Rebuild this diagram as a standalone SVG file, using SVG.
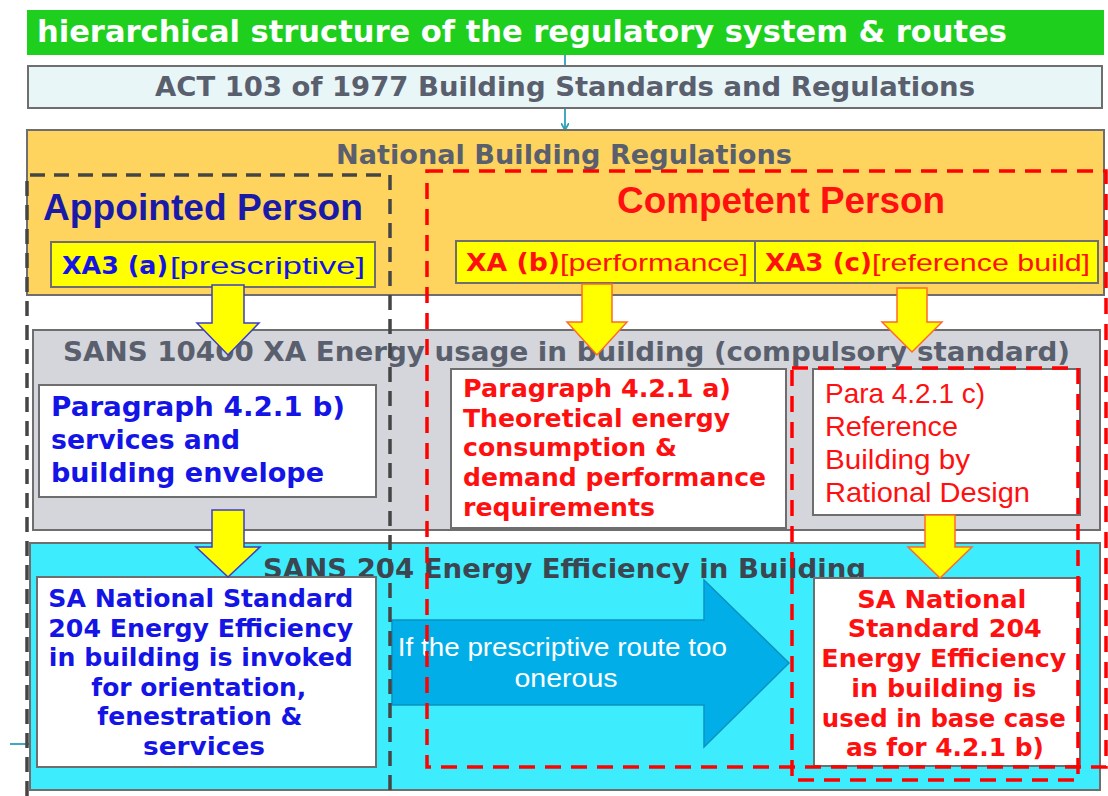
<svg xmlns="http://www.w3.org/2000/svg" width="1108" height="796" viewBox="0 0 1108 796">
<style>
.v{font-family:"DejaVu Sans",Verdana,sans-serif;font-weight:bold}
.a{font-family:"Liberation Sans",Arial,sans-serif}
.box{stroke:#6e6e6e;stroke-width:2}
.hd{fill:#5a5f6e;font-size:27px}
.blu{fill:#1414e6}
.red{fill:#ff1010}
.ya{fill:#ffff00;stroke-width:1.5}
.yb{stroke:#3c3ccc}
.yr{stroke:#ff6a2a}
.dk{fill:none;stroke:#454545;stroke-width:3.5;stroke-dasharray:15 9}
.dr{fill:none;stroke:#ff0000;stroke-width:3.5;stroke-dasharray:16 10}
.cn{stroke:#2aa0b8;stroke-width:1.8;fill:none}
</style>
<defs>
<marker id="ah" markerWidth="8" markerHeight="8" refX="6" refY="4" orient="auto" markerUnits="userSpaceOnUse">
<path d="M0,0 L7,4 L0,8" fill="none" stroke="#2aa0b8" stroke-width="1.8"/>
</marker>
</defs>
<rect width="1108" height="796" fill="#ffffff"/>

<g id="connectors">
<line class="cn" x1="565" y1="55" x2="565" y2="66"/>
<line class="cn" x1="565" y1="108" x2="565" y2="129" marker-end="url(#ah)"/>
<line class="cn" x1="10" y1="744" x2="30" y2="744"/>
</g>

<g id="title">
<rect x="27" y="10" width="1077" height="45" fill="#1ecf1e"/>
<text class="v" x="37" y="42" font-size="31" fill="#ffffff" textLength="970" lengthAdjust="spacingAndGlyphs">hierarchical  structure  of the regulatory  system &amp; routes</text>
</g>

<g id="act">
<rect class="box" x="28" y="66" width="1074" height="42" fill="#e8f6f8"/>
<text class="v hd" x="155" y="96" textLength="820" lengthAdjust="spacingAndGlyphs">ACT 103 of 1977 Building  Standards and  Regulations</text>
</g>

<g id="nbr">
<rect class="box" x="27" y="130" width="1077" height="165" fill="#fed45f"/>
<text class="v hd" x="336" y="164" textLength="456" lengthAdjust="spacingAndGlyphs">National  Building  Regulations</text>
</g>

<g id="appointed-label">
<text class="a" x="43" y="220" font-size="37" font-weight="bold" fill="#1a1aa8" textLength="320" lengthAdjust="spacingAndGlyphs">Appointed Person</text>
</g>
<g id="competent-label">
<text class="a" x="617" y="213" font-size="37" font-weight="bold" fill="#ff1010" textLength="328" lengthAdjust="spacingAndGlyphs">Competent Person</text>
</g>

<g id="xa3a">
<rect class="box" x="51" y="242" width="324" height="45" fill="#ffff00"/>
<text x="62" y="274" font-size="24" class="blu"><tspan class="v" textLength="106" lengthAdjust="spacingAndGlyphs">XA3 (a)</tspan><tspan class="a" x="170" textLength="195" lengthAdjust="spacingAndGlyphs">[prescriptive]</tspan></text>
</g>

<g id="xab">
<rect class="box" x="456" y="241" width="299" height="42" fill="#ffff00"/>
<text x="466" y="271" font-size="24" class="red"><tspan class="v" textLength="94" lengthAdjust="spacingAndGlyphs">XA (b)</tspan><tspan class="a" x="560" textLength="188" lengthAdjust="spacingAndGlyphs">[performance]</tspan></text>
</g>

<g id="xa3c">
<rect class="box" x="755" y="241" width="343" height="42" fill="#ffff00"/>
<text x="765" y="271" font-size="24" class="red"><tspan class="v" textLength="107" lengthAdjust="spacingAndGlyphs">XA3 (c)</tspan><tspan class="a" x="872" textLength="218" lengthAdjust="spacingAndGlyphs">[reference build]</tspan></text>
</g>

<g id="sans10400">
<rect class="box" x="33" y="330" width="1067" height="200" fill="#d4d6db"/>
<text class="v hd" x="63" y="361" textLength="1007" lengthAdjust="spacingAndGlyphs">SANS 10400 XA Energy  usage in building  (compulsory  standard)</text>
</g>

<g id="para-b">
<rect class="box" x="39" y="385" width="337" height="112" fill="#ffffff"/>
<text class="v blu" font-size="26">
<tspan x="51" y="416" textLength="294" lengthAdjust="spacingAndGlyphs">Paragraph  4.2.1 b)</tspan>
<tspan x="51" y="449" textLength="189" lengthAdjust="spacingAndGlyphs">services and</tspan>
<tspan x="51" y="482" textLength="273" lengthAdjust="spacingAndGlyphs">building  envelope</tspan>
</text>
</g>

<g id="para-a">
<rect class="box" x="451" y="369" width="335" height="159" fill="#ffffff"/>
<text class="v red" font-size="24">
<tspan x="463" y="397" textLength="268" lengthAdjust="spacingAndGlyphs">Paragraph 4.2.1 a)</tspan>
<tspan x="463" y="427" textLength="267" lengthAdjust="spacingAndGlyphs">Theoretical energy</tspan>
<tspan x="463" y="456" textLength="214" lengthAdjust="spacingAndGlyphs">consumption &amp;</tspan>
<tspan x="463" y="486" textLength="303" lengthAdjust="spacingAndGlyphs">demand performance</tspan>
<tspan x="463" y="516" textLength="192" lengthAdjust="spacingAndGlyphs">requirements</tspan>
</text>
</g>

<g id="para-c">
<rect class="box" x="813" y="369" width="267" height="146" fill="#ffffff"/>
<text class="a red" font-size="28">
<tspan x="825" y="403" textLength="160" lengthAdjust="spacingAndGlyphs">Para 4.2.1 c)</tspan>
<tspan x="825" y="436" textLength="133" lengthAdjust="spacingAndGlyphs">Reference</tspan>
<tspan x="825" y="469" textLength="145" lengthAdjust="spacingAndGlyphs">Building  by</tspan>
<tspan x="825" y="502" textLength="205" lengthAdjust="spacingAndGlyphs">Rational  Design</tspan>
</text>
</g>

<g id="sans204">
<rect class="box" x="30" y="543" width="1070" height="247" fill="#3eedfd"/>
<text class="v" x="263" y="578" font-size="27" fill="#3c4650" textLength="603" lengthAdjust="spacingAndGlyphs">SANS 204 Energy Efficiency  in  Building</text>
</g>

<g id="sa-left">
<rect class="box" x="37" y="577" width="339" height="190" fill="#ffffff"/>
<text class="v blu" font-size="24" text-anchor="middle">
<tspan x="205" y="607" textLength="305" lengthAdjust="spacingAndGlyphs">SA National Standard</tspan>
<tspan x="205" y="637" textLength="305" lengthAdjust="spacingAndGlyphs">204 Energy Efficiency</tspan>
<tspan x="205" y="666" textLength="304" lengthAdjust="spacingAndGlyphs">in building is invoked</tspan>
<tspan x="203" y="696" textLength="215" lengthAdjust="spacingAndGlyphs">for orientation,</tspan>
<tspan x="204" y="725" textLength="205" lengthAdjust="spacingAndGlyphs">fenestration &amp;</tspan>
<tspan x="204" y="755" textLength="122" lengthAdjust="spacingAndGlyphs">services</tspan>
</text>
</g>

<g id="route-arrow">
<polygon points="392,620 704,620 704,580 789,663 704,747 704,705 392,705" fill="#02aee8" stroke="#0a93c2" stroke-width="1.5"/>
<text class="a" font-size="26" fill="#ffffff" text-anchor="middle">
<tspan x="566" y="656" textLength="329" lengthAdjust="spacingAndGlyphs">If the prescriptive route too</tspan>
<tspan x="566" y="687" textLength="103" lengthAdjust="spacingAndGlyphs">onerous</tspan>
</text>
</g>

<g id="sa-right">
<rect class="box" x="814" y="578" width="266" height="188" fill="#ffffff"/>
<text class="v red" font-size="24" text-anchor="middle">
<tspan x="946" y="608" textLength="169" lengthAdjust="spacingAndGlyphs">SA National</tspan>
<tspan x="949" y="637" textLength="194" lengthAdjust="spacingAndGlyphs">Standard 204</tspan>
<tspan x="948" y="667" textLength="245" lengthAdjust="spacingAndGlyphs">Energy Efficiency</tspan>
<tspan x="948" y="697" textLength="185" lengthAdjust="spacingAndGlyphs">in building is</tspan>
<tspan x="948" y="727" textLength="244" lengthAdjust="spacingAndGlyphs">used in base case</tspan>
<tspan x="945" y="756" textLength="198" lengthAdjust="spacingAndGlyphs">as for 4.2.1 b)</tspan>
</text>
</g>

<g id="appointed-route">
<path class="dk" d="M27,796 V175 H390 V796"/>
</g>
<g id="competent-route">
<rect class="dr" x="427" y="171" width="679" height="596"/>
</g>
<g id="reference-route">
<rect class="dr" x="792" y="368" width="286" height="412"/>
</g>

<g id="down-arrows">
<polygon class="ya yb" points="212,285 244,285 244,323 259,323 228,355 197,323 212,323"/>
<polygon class="ya yr" points="582,284 612,284 612,322 627,322 597,355 567,322 582,322"/>
<polygon class="ya yr" points="897,288 927,288 927,322 942,322 912,352 882,322 897,322"/>
<polygon class="ya yb" points="212,510 244,510 244,547 260,547 228,577 196,547 212,547"/>
<polygon class="ya yr" points="925,515 955,515 955,547 972,547 940,578 908,547 925,547"/>
</g>
</svg>
